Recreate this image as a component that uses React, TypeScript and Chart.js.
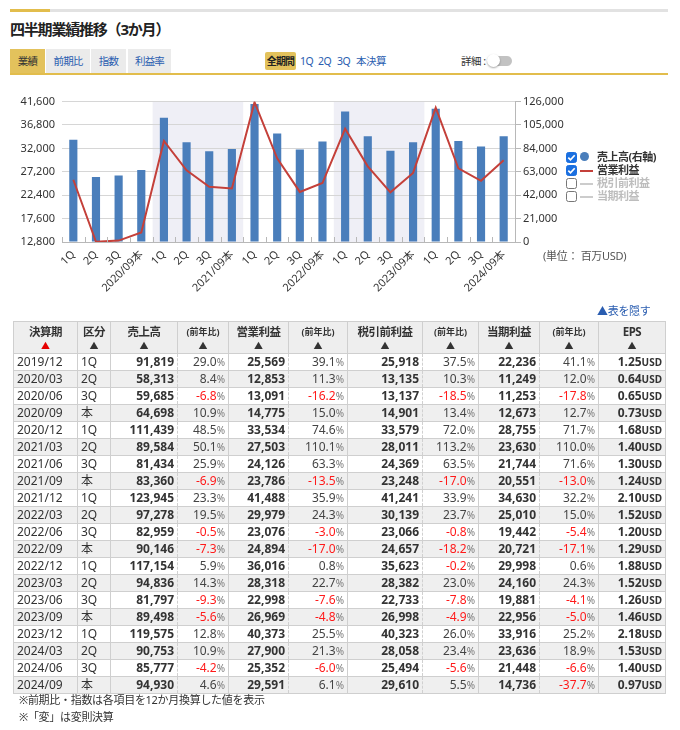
import React, { useEffect, useRef } from 'react';
import { Chart, registerables } from 'chart.js';

Chart.register(...registerables);

const FONT = '"Noto Sans", "Noto Sans CJK JP", sans-serif';

// ---- chart data ----
const chartLabels = [
  '1Q', '2Q', '3Q', '2020/09本',
  '1Q', '2Q', '3Q', '2021/09本',
  '1Q', '2Q', '3Q', '2022/09本',
  '1Q', '2Q', '3Q', '2023/09本',
  '1Q', '2Q', '3Q', '2024/09本',
];
const leftTicks = { min: 12800, max: 41600, step: 4800 };
const rightTicks = { min: 0, max: 126000, step: 21000 };
const shadedGroups: [number, number][] = [[4, 7], [12, 15]];

// ---- table data ----
const periods = [
  '2019/12', '2020/03', '2020/06', '2020/09', '2020/12', '2021/03', '2021/06', '2021/09',
  '2021/12', '2022/03', '2022/06', '2022/09', '2022/12', '2023/03', '2023/06', '2023/09',
  '2023/12', '2024/03', '2024/06', '2024/09',
];
const kubun = ['1Q', '2Q', '3Q', '本', '1Q', '2Q', '3Q', '本', '1Q', '2Q', '3Q', '本', '1Q', '2Q', '3Q', '本', '1Q', '2Q', '3Q', '本'];
const sales = [91819, 58313, 59685, 64698, 111439, 89584, 81434, 83360, 123945, 97278, 82959, 90146, 117154, 94836, 81797, 89498, 119575, 90753, 85777, 94930];
const salesYoY = [29.0, 8.4, -6.8, 10.9, 48.5, 50.1, 25.9, -6.9, 23.3, 19.5, -0.5, -7.3, 5.9, 14.3, -9.3, -5.6, 12.8, 10.9, -4.2, 4.6];
const opProfit = [25569, 12853, 13091, 14775, 33534, 27503, 24126, 23786, 41488, 29979, 23076, 24894, 36016, 28318, 22998, 26969, 40373, 27900, 25352, 29591];
const opYoY = [39.1, 11.3, -16.2, 15.0, 74.6, 110.1, 63.3, -13.5, 35.9, 24.3, -3.0, -17.0, 0.8, 22.7, -7.6, -4.8, 25.5, 21.3, -6.0, 6.1];
const pretax = [25918, 13135, 13137, 14901, 33579, 28011, 24369, 23248, 41241, 30139, 23066, 24657, 35623, 28382, 22733, 26998, 40323, 28058, 25494, 29610];
const pretaxYoY = [37.5, 10.3, -18.5, 13.4, 72.0, 113.2, 63.5, -17.0, 33.9, 23.7, -0.8, -18.2, -0.2, 23.0, -7.8, -4.9, 26.0, 23.4, -5.6, 5.5];
const netProfit = [22236, 11249, 11253, 12673, 28755, 23630, 21744, 20551, 34630, 25010, 19442, 20721, 29998, 24160, 19881, 22956, 33916, 23636, 21448, 14736];
const netYoY = [41.1, 12.0, -17.8, 12.7, 71.7, 110.0, 71.6, -13.0, 32.2, 15.0, -5.4, -17.1, 0.6, 24.3, -4.1, -5.0, 25.2, 18.9, -6.6, -37.7];
const eps = [1.25, 0.64, 0.65, 0.73, 1.68, 1.40, 1.30, 1.24, 2.10, 1.52, 1.20, 1.29, 1.88, 1.52, 1.26, 1.46, 2.18, 1.53, 1.40, 0.97];

const tabs = ['業績', '前期比', '指数', '利益率'];
const periodLinks = ['1Q', '2Q', '3Q', '本決算'];

const fmt = (v: number) => v.toLocaleString('en-US');

function ChartBox() {
  const ref = useRef<HTMLCanvasElement>(null);
  useEffect(() => {
    if (!ref.current) return;
    const bandPlugin = {
      id: 'bands',
      beforeDraw(chart: any) {
        const { ctx, chartArea, scales } = chart;
        const x = scales.x;
        const w = x.getPixelForValue(1) - x.getPixelForValue(0);
        ctx.save();
        ctx.fillStyle = '#efeff6';
        shadedGroups.forEach(([a, b]) => {
          const l = x.getPixelForValue(a) - w / 2;
          const r = x.getPixelForValue(b) + w / 2;
          ctx.fillRect(l, chartArea.top, r - l, chartArea.bottom - chartArea.top);
        });
        ctx.restore();
      },
      afterDraw(chart: any) {
        const { ctx, chartArea, scales } = chart;
        const x = scales.x;
        const w = x.getPixelForValue(1) - x.getPixelForValue(0);
        ctx.save();
        ctx.strokeStyle = '#b8b8b8';
        ctx.lineWidth = 1;
        for (let i = 0; i <= chartLabels.length; i++) {
          const px = Math.round(x.getPixelForValue(0) - w / 2 + i * w) + 0.5;
          ctx.beginPath();
          ctx.moveTo(px, chartArea.bottom);
          ctx.lineTo(px, chartArea.bottom - 5);
          ctx.stroke();
        }
        ctx.restore();
      },
    };
    const chart = new Chart(ref.current, {
      type: 'bar',
      data: {
        labels: chartLabels,
        datasets: [
          {
            type: 'line',
            label: '営業利益',
            data: opProfit,
            yAxisID: 'y',
            borderColor: '#c4403a',
            borderWidth: 2,
            pointRadius: 0,
            tension: 0,
            order: 0,
          } as any,
          {
            type: 'bar',
            label: '売上高(右軸)',
            data: sales,
            yAxisID: 'y1',
            backgroundColor: '#4a7ebb',
            borderWidth: 0,
            barPercentage: 0.36,
            categoryPercentage: 1,
            order: 1,
          },
        ],
      },
      options: {
        responsive: false,
        animation: false,
        layout: { padding: { top: 11, left: 0, right: 0, bottom: 0 } },
        plugins: { legend: { display: false }, tooltip: { enabled: false } },
        scales: {
          x: {
            offset: true,
            grid: { display: false, drawTicks: false },
            border: { display: true, color: '#b8b8b8' },
            ticks: {
              autoSkip: false,
              maxRotation: 45,
              minRotation: 45,
              color: '#333',
              padding: 6,
              font: { size: 11, family: FONT },
            },
            afterFit(s: any) { s.height = 56; },
          },
          y: {
            position: 'left',
            min: leftTicks.min,
            max: leftTicks.max,
            ticks: {
              stepSize: leftTicks.step,
              color: '#333',
              padding: 7,
              font: { size: 11, family: FONT },
              callback: (v: any) => fmt(Number(v)),
            },
            grid: { color: '#d6d6d6', drawTicks: false },
            border: { display: false },
            afterFit(s: any) { s.width = 62; },
          },
          y1: {
            position: 'right',
            min: rightTicks.min,
            max: rightTicks.max,
            ticks: {
              stepSize: rightTicks.step,
              color: '#333',
              padding: 2,
              font: { size: 11, family: FONT },
              callback: (v: any) => fmt(Number(v)),
            },
            grid: { drawOnChartArea: false, tickLength: 6, color: '#b8b8b8' },
            border: { display: true, color: '#b8b8b8' },
            afterFit(s: any) { s.width = 65; },
          },
        },
      } as any,
      plugins: [bandPlugin],
    });
    return () => chart.destroy();
  }, []);
  return (
    <canvas
      ref={ref}
      width={580}
      height={210}
      style={{ position: 'absolute', left: 0, top: 88, width: 580, height: 210 }}
    />
  );
}

const CheckBox = ({ checked }: { checked: boolean }) =>
  checked ? (
    <svg width="11" height="11" style={{ display: 'block' }}>
      <rect x="0.5" y="0.5" width="10" height="10" rx="2" fill="#1a6fe0" stroke="#1a6fe0" />
      <path d="M2.3 5.6 L4.5 7.8 L8.7 3.2" stroke="#fff" strokeWidth="1.7" fill="none" />
    </svg>
  ) : (
    <svg width="11" height="11" style={{ display: 'block' }}>
      <rect x="0.5" y="0.5" width="10" height="10" rx="2" fill="#fff" stroke="#777" />
    </svg>
  );

const legendItems = [
  { label: '売上高(右軸)', on: true, kind: 'dot', color: '#4a7ebb' },
  { label: '営業利益', on: true, kind: 'line', color: '#c4403a' },
  { label: '税引前利益', on: false, kind: 'line', color: '#cccccc' },
  { label: '当期利益', on: false, kind: 'line', color: '#cccccc' },
];

function Legend() {
  return (
    <div style={{ position: 'absolute', left: 565, top: 151 }}>
      {legendItems.map((it, i) => (
        <div key={i} style={{ position: 'absolute', top: i * 13, left: 0, height: 13, width: 110 }}>
          <div style={{ position: 'absolute', left: 1, top: 1 }}>
            <CheckBox checked={it.on} />
          </div>
          {it.kind === 'dot' ? (
            <div style={{ position: 'absolute', left: 15, top: 1, width: 9, height: 9, borderRadius: 5, background: it.color }} />
          ) : (
            <div style={{ position: 'absolute', left: 15, top: 6, width: 13, height: 2, background: it.color }} />
          )}
          <div
            style={{
              position: 'absolute', left: 32, top: -2, fontSize: 11, fontWeight: 'bold', whiteSpace: 'nowrap',
              color: it.on ? '#333' : '#bdbdbd', letterSpacing: -0.5, lineHeight: '16px',
            }}
          >
            {it.label}
          </div>
        </div>
      ))}
    </div>
  );
}

const colWidths = [64, 33, 67, 51, 60, 59, 75, 56, 61, 59, 67];
const headers = ['決算期', '区分', '売上高', '(前年比)', '営業利益', '(前年比)', '税引前利益', '(前年比)', '当期利益', '(前年比)', 'EPS'];
const dashedLeft = [false, false, false, true, false, true, false, true, false, true, false];

const BORDER = '1px solid #cfcfcf';
const DASH = '1px dashed #d0d0d0';

function Pct({ v }: { v: number }) {
  return (
    <span>
      <span style={{ color: v < 0 ? '#ff1a1a' : '#444' }}>{v.toFixed(1)}</span>
      <span style={{ fontSize: 10, color: '#777' }}>%</span>
    </span>
  );
}

function DataTable() {
  const tdBase: React.CSSProperties = {
    padding: '0 3px',
    fontSize: 12,
    borderBottom: BORDER,
    whiteSpace: 'nowrap',
    color: '#333',
  };
  return (
    <table
      style={{
        position: 'absolute', left: 13, top: 321, width: 652, borderCollapse: 'collapse',
        tableLayout: 'fixed', border: BORDER,
      }}
    >
      <colgroup>
        {colWidths.map((w, i) => <col key={i} style={{ width: w }} />)}
      </colgroup>
      <thead>
        <tr>
          {headers.map((h, i) => (
            <th
              key={i}
              style={{
                padding: '2px 0 0', background: '#eeeeee', border: BORDER, verticalAlign: 'top',
                fontWeight: 'bold', color: '#333', textAlign: 'center',
              }}
            >
              <div style={{ height: 29, overflow: 'hidden' }}>
                <div style={{ fontSize: h.startsWith('(') ? 9 : 11.5, letterSpacing: h.startsWith('(') ? 0 : -0.5, height: 15, lineHeight: '15px' }}>{h}</div>
                <div style={{ fontSize: 9, color: i === 0 ? '#e60000' : '#333', lineHeight: '13px', height: 13 }}>▲</div>
              </div>
            </th>
          ))}
        </tr>
      </thead>
      <tbody>
        {periods.map((p, r) => {
          const bg = r % 2 === 1 ? '#efefef' : '#ffffff';
          const cells: React.ReactNode[] = [
            p,
            kubun[r],
            <b>{fmt(sales[r])}</b>,
            <Pct v={salesYoY[r]} />,
            <b>{fmt(opProfit[r])}</b>,
            <Pct v={opYoY[r]} />,
            <b>{fmt(pretax[r])}</b>,
            <Pct v={pretaxYoY[r]} />,
            <b>{fmt(netProfit[r])}</b>,
            <Pct v={netYoY[r]} />,
            <b>
              {eps[r].toFixed(2)}
              <span style={{ fontSize: 10 }}>USD</span>
            </b>,
          ];
          return (
            <tr key={r} style={{ background: bg }}>
              {cells.map((c, i) => (
                <td
                  key={i}
                  style={{
                    ...tdBase,
                    textAlign: i < 2 ? 'left' : 'right',
                    borderLeft: dashedLeft[i] ? DASH : BORDER,
                    borderRight: i === 10 ? BORDER : 'none',
                  }}
                >
                  <div style={{ height: 16, lineHeight: '16px', overflow: 'hidden' }}>{c}</div>
                </td>
              ))}
            </tr>
          );
        })}
      </tbody>
    </table>
  );
}

export default function App() {
  return (
    <div style={{ position: 'relative', width: 680, height: 730, background: '#fff', fontFamily: FONT, color: '#333', overflow: 'hidden' }}>
      <style>{'body{margin:0;}'}</style>
      {/* top bar */}
      <div style={{ position: 'absolute', left: 10, top: 9, width: 658, height: 3, background: '#e2e2e2' }} />
      <div style={{ position: 'absolute', left: 10, top: 9, width: 40, height: 3, background: '#e2bd4c' }} />
      {/* title */}
      <div style={{ position: 'absolute', left: 10, top: 18, fontSize: 15, fontWeight: 'bold', letterSpacing: -1.2, lineHeight: '22px', color: '#222' }}>
        四半期業績推移（3か月）
      </div>
      {/* tabs */}
      {tabs.map((t, i) => {
        const lefts = [10, 46, 91, 128];
        const widths = [35, 44, 35, 43];
        return (
          <div
            key={t}
            style={{
              position: 'absolute', left: lefts[i], top: 49, width: widths[i], height: 24,
              background: i === 0 ? '#e3c25c' : '#ebebeb', color: i === 0 ? '#333' : '#2a5db0',
              fontSize: 10.5, letterSpacing: -0.8, textAlign: 'center', lineHeight: '24px',
            }}
          >
            {t}
          </div>
        );
      })}
      <div style={{ position: 'absolute', left: 10, top: 73, width: 658, height: 2, background: '#e2bd4c' }} />
      {/* period selector */}
      <div
        style={{
          position: 'absolute', left: 265, top: 52, width: 31, height: 18, background: '#e3c25c', borderRadius: 2,
          fontSize: 10, fontWeight: 'bold', lineHeight: '18px', textAlign: 'center', letterSpacing: -0.8, color: '#222',
        }}
      >
        全期間
      </div>
      {periodLinks.map((t, i) => {
        const lefts = [300, 318, 337, 356];
        return (
          <div key={t} style={{ position: 'absolute', left: lefts[i], top: 52, fontSize: 10.5, lineHeight: '18px', color: '#2a5db0', letterSpacing: -0.5 }}>
            {t}
          </div>
        );
      })}
      {/* detail toggle */}
      <div style={{ position: 'absolute', left: 461, top: 52, fontSize: 10.5, lineHeight: '18px', color: '#333', letterSpacing: -0.5 }}>詳細 :</div>
      <div style={{ position: 'absolute', left: 490, top: 56, width: 22, height: 10, borderRadius: 5, background: '#c2c2c2' }} />
      <div style={{ position: 'absolute', left: 487, top: 54, width: 13, height: 13, borderRadius: 7, background: '#fff', boxShadow: '0 1px 2px rgba(0,0,0,0.35)' }} />
      {/* chart */}
      <ChartBox />
      <Legend />
      <div style={{ position: 'absolute', left: 543, top: 248, fontSize: 11, lineHeight: '16px', color: '#555', letterSpacing: -0.3 }}>
        (単位： 百万USD)
      </div>
      {/* table */}
      <div style={{ position: 'absolute', left: 597, top: 303, fontSize: 11, lineHeight: '16px', color: '#2a5db0', letterSpacing: -0.3 }}>
        ▲表を隠す
      </div>
      <DataTable />
      <div style={{ position: 'absolute', left: 19, top: 692, fontSize: 11, lineHeight: '16px', color: '#333', letterSpacing: -0.3 }}>
        ※前期比・指数は各項目を12か月換算した値を表示
      </div>
      <div style={{ position: 'absolute', left: 19, top: 709, fontSize: 11, lineHeight: '16px', color: '#333', letterSpacing: -0.3 }}>
        ※「変」は変則決算
      </div>
    </div>
  );
}
